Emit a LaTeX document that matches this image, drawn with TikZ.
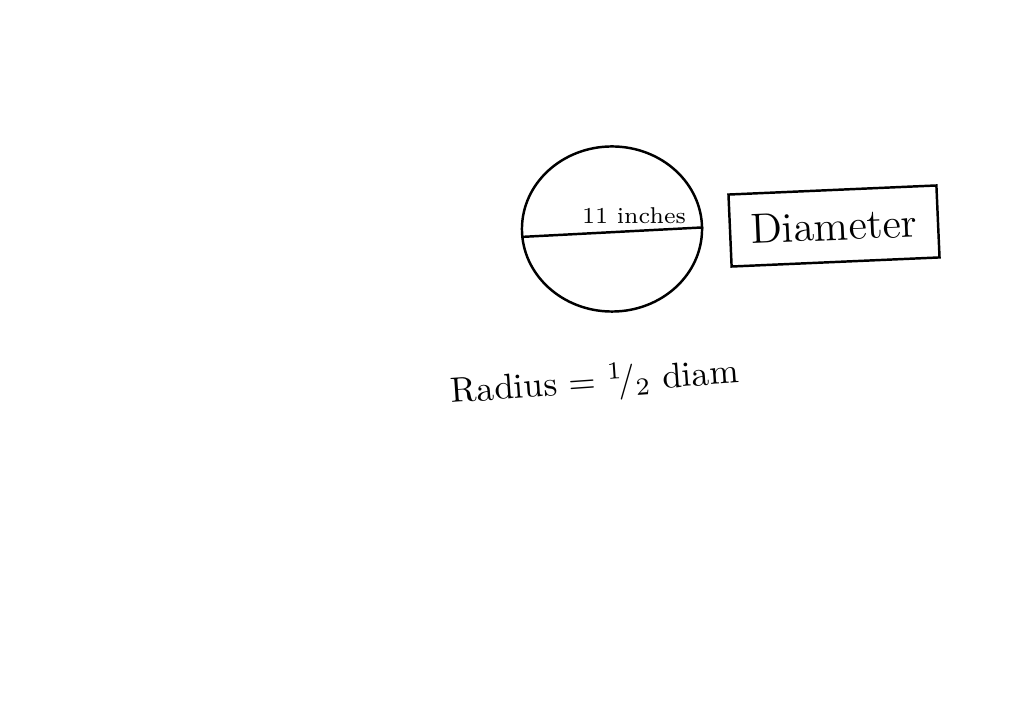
\documentclass[tikz,border=0pt]{standalone}
\usepackage{tikz}
\usetikzlibrary{positioning,shapes.geometric}

\begin{document}
\begin{tikzpicture}[
	x=0.01cm, y=-0.01cm,
	% nét vẽ chung
	ink/.style={draw=black, line width=0.7pt},
	% khung chữ bên phải
	tagbox/.style={
		ink,
		minimum width=2.08cm,
		minimum height=0.72cm,
		font=\large,
		anchor=center
	}
	]
	% khung nền giữ đúng tỉ lệ
	\useasboundingbox (0,0) rectangle (1024,716);
	
	% hình tròn và đường kính
	\node[ink, ellipse, minimum width=1.8cm, minimum height=1.65cm] (ball) at (612,229) {};
	\draw[ink] (ball.185) -- (ball.1);
	\node[font=\fontsize{6.5}{8}\selectfont] (len) at (634,216) {11 inches};
	
	% khung "Diameter"
	\node[tagbox, rotate=2.5] (tag) at (834,226) {Diameter};
	
	% công thức bán kính
	\node[font=\normalsize, rotate=4] (rad) at (595,383) {Radius = \(^{1}\!/_{2}\) diam};
\end{tikzpicture}
\end{document}
